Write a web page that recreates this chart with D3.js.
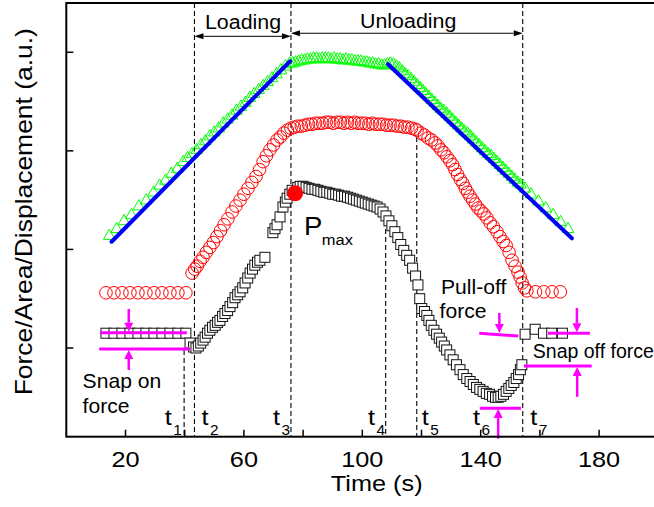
<!DOCTYPE html>
<html><head><meta charset="utf-8">
<script src="https://cdn.jsdelivr.net/npm/d3@7"></script>
<style>
body{margin:0;background:#fff}
svg{display:block}
text{font-family:"Liberation Sans",Arial,Helvetica,sans-serif;fill:#000}
</style>
</head><body>
<svg id="chart" width="654" height="507"></svg>
<script>
// ---------------- data (time in s, signal in a.u.) ----------------
const xTickValues = [20, 40, 60, 80, 100, 120, 140, 160, 180];
const xTickLabels = [20, 60, 100, 140, 180];
const yTickValues = [100, 200, 300, 400];

// Displacement (green triangles)
const triTime = [14.5,17.0,19.5,22.0,24.5,27.0,29.5,31.5,33.5,35.5,37.5,39.5,41.0,42.5,44.0,45.5,47.0,48.5,50.0,51.5,53.0,54.5,56.0,57.5,59.0,60.5,62.0,63.5,65.0,66.5,68.0,69.5,71.0,72.5,74.0,75.5,
  76.5,77.5,78.5,79.5,80.5,81.5,82.5,83.5,84.5,85.5,86.5,87.5,88.5,89.5,90.5,91.5,92.5,93.5,94.5,95.5,96.5,97.5,98.5,99.5,100.5,101.5,102.5,103.5,104.5,105.5,106.5,107.5,
  108.5,109.5,110.5,111.5,112.5,113.5,114.5,115.5,116.5,117.5,118.5,119.5,120.5,121.5,122.5,123.5,124.5,125.5,126.5,127.5,128.5,129.5,130.5,131.5,132.5,133.5,134.5,135.5,136.5,137.5,138.5,139.5,140.5,141.5,142.5,143.5,144.5,145.5,146.5,147.5,148.5,149.5,150.5,151.5,152.5,153.5,155.0,157.0,159.5,162.0,164.5,167.0,169.5];
const triValue = [214,221,229,235,244,250,258,265,270,277,282,289,293,297,301,306,310,315,319,323,328,332,336,341,345,349,354,358,362,366,370,374,378,382,386,389,
  389,390,391,392,392,393,393,394,394,393,394,394,394,393,394,393,393,392,393,392,392,391,391,391,390,390,389,389,388,388,387,387,
  388,389,388,386,384,381,378,376,373,370,367,364,361,358,355,352,349,346,343,341,338,335,332,329,326,323,320,318,315,312,309,306,303,300,297,295,292,289,286,283,280,277,274,271,268,266,262,256,249,242,235,228,221];

// Area (red circles)
const cirTime = [13.4,16.1,18.8,21.5,24.2,26.9,29.6,32.3,35.0,37.7,40.4,
  42.5,43.4,44.2,45.2,46.2,47.3,48.5,49.7,50.9,52.1,53.3,54.6,56.0,57.3,58.7,60.0,61.4,62.7,64.1,65.3,66.5,67.6,68.8,70.0,71.2,72.3,73.5,74.7,75.9,
  77.0,78.2,79.4,80.6,81.8,83.0,84.2,85.4,86.6,87.8,89.0,90.2,91.4,92.6,93.8,95.0,96.2,97.4,98.6,99.8,101.0,102.2,103.4,104.6,105.8,107.0,108.2,109.4,110.6,111.8,113.0,114.2,115.4,116.6,117.8,
  118.5,119.8,121.0,122.2,123.4,124.6,125.6,126.6,127.6,128.6,129.6,130.5,131.3,132.2,133.1,134.0,134.8,135.6,136.4,137.3,138.2,139.1,140.1,141.1,142.1,143.2,144.3,145.5,146.5,147.6,148.6,149.6,150.6,151.6,152.6,153.3,154.0,154.8,155.6,
  158.5,161.3,164.1,166.9];
const cirValue = [156,156,156,156,156,156,156,156,156,156,156,
  176,180,183,188,192,197,202,207,213,219,225,231,238,244,250,256,262,268,274,281,289,295,301,306,311,314,318,321,323,
  324,325,325,326,327,327,328,328,328,329,329,328,329,329,328,329,328,329,328,328,328,327,328,327,327,327,326,326,326,325,325,324,324,323,322,
  321,318,316,313,311,308,305,301,298,294,290,286,281,276,271,267,262,258,254,250,246,242,239,236,232,227,223,218,213,208,204,197,189,183,177,172,166,161,158,
  157,157,157,157];

// Force (black squares)
const sqTime = [13.4,16.1,18.8,21.5,24.2,26.9,29.6,32.3,35.0,37.7,40.4,
  41.8,43.0,43.8,44.6,45.4,46.2,46.9,47.7,48.5,49.4,50.3,51.1,51.9,52.8,53.6,54.5,55.3,56.2,57.0,57.9,58.7,59.6,60.4,61.3,62.1,62.9,63.7,64.6,65.4,67.1,
  69.8,70.5,71.2,72.2,73.2,74.0,74.6,75.5,76.3,
  78.2,79.0,80.0,81.0,82.0,83.0,84.0,85.0,86.0,87.0,88.0,89.0,90.0,91.0,92.0,93.0,94.0,95.0,96.0,97.0,98.0,99.0,100.0,101.0,102.0,103.0,104.0,105.0,106.0,107.0,108.0,109.0,110.0,111.0,112.0,113.0,114.0,115.0,116.0,117.0,118.0,118.8,119.4,
  120.1,121.0,121.8,122.5,123.3,124.2,125.1,126.0,126.8,127.7,128.5,129.6,130.7,131.8,133.0,134.1,135.3,136.4,137.5,138.6,139.7,140.8,141.9,143.0,144.0,145.0,145.9,146.8,147.7,148.6,149.5,150.3,151.2,152.0,152.8,153.4,153.9,
  155.0,158.4,161.2,164.0,167.6];
const sqValue = [115,115,115,115,115,115,115,115,115,115,115,
  105,101,100,102,105,108,111,115,118,121,123,126,128,132,135,138,142,146,151,154,157,161,166,171,176,180,184,187,189,192,
  217,221,225,233,243,248,252,256,260,
  263,264,264,263,262,261,261,260,259,258,258,257,256,256,255,254,254,253,252,251,250,249,248,247,246,245,244,243,241,238,234,229,224,218,212,205,199,194,189,181,173,164,150,
  140,137,133,128,123,118,114,110,106,102,98,93,88,83,78,73,69,66,63,60,58,56,54,53,51,50,50,51,53,56,59,62,65,69,73,78,83,
  114,119,115,115,115];

// Maximum force point
const pmaxTime = [77.3];
const pmaxValue = [257];

// Linear fits (blue)
const fitLoadTime = [15.3, 75.6];
const fitLoadValue = [207.8, 390.9];
const fitUnloadTime = [108.7, 170.8];
const fitUnloadValue = [387.9, 211.3];

// Event markers t1..t7 (null = no dashed line)
const markerLabels = ["1","2","3","4","5","6","7"];
const markerTime = [39.8, 43.3, 75.9, 107.9, 118.4, null, 154.2];
const markerTop = [98, 450, 450, 237, 314, null, 450];
const markerLabelTime = [33.3, 45.7, 69.8, 101.9, 120.1, 137.4, 156.7];

// ---------------- drawing ----------------
const W = 654, H = 507;
const x = d3.scaleLinear().domain([0, 200]).range([66.3, 658.3]);
const y = d3.scaleLinear().domain([10, 450]).range([436.7, 3]);
const svg = d3.select("#chart");

function txt(g, px, py, s, size, sx, anchor) {
  return g.append("text")
    .attr("transform", `translate(${px},${py}) scale(${sx},1)`)
    .attr("font-size", size)
    .attr("text-anchor", anchor || "start")
    .text(s);
}

// dashed event lines
const gMark = svg.append("g");
markerTime.forEach((t, i) => {
  if (t === null) return;
  gMark.append("line")
    .attr("x1", x(t)).attr("x2", x(t))
    .attr("y1", y(markerTop[i])).attr("y2", y(10))
    .attr("stroke", "#000").attr("stroke-width", 1.1)
    .attr("stroke-dasharray", "5,3");
});

// triangles
const triPath = "M0,-6.5L5.8,3.8L-5.8,3.8Z";
svg.append("g").selectAll("path").data(d3.zip(triTime, triValue)).join("path")
  .attr("d", triPath)
  .attr("transform", d => `translate(${x(d[0])},${y(d[1])})`)
  .attr("fill", "none").attr("stroke", "#00ff00").attr("stroke-width", 1);

// fit lines
const line = d3.line().x(d => x(d[0])).y(d => y(d[1]));
[[fitLoadTime, fitLoadValue], [fitUnloadTime, fitUnloadValue]].forEach(([tt, vv]) => {
  svg.append("path").attr("d", line(d3.zip(tt, vv)))
    .attr("fill", "none").attr("stroke", "#0000ff").attr("stroke-width", 4).attr("stroke-linecap", "round");
});

// circles
svg.append("g").selectAll("circle").data(d3.zip(cirTime, cirValue)).join("circle")
  .attr("cx", d => x(d[0])).attr("cy", d => y(d[1])).attr("r", 6.3)
  .attr("fill", "none").attr("stroke", "#ff0000").attr("stroke-width", 1);

// squares
svg.append("g").selectAll("rect").data(d3.zip(sqTime, sqValue)).join("rect")
  .attr("x", d => x(d[0]) - 5).attr("y", d => y(d[1]) - 5)
  .attr("width", 10).attr("height", 10)
  .attr("fill", "#fff").attr("stroke", "#111").attr("stroke-width", 1);

// Pmax
svg.append("circle").attr("cx", x(pmaxTime[0])).attr("cy", y(pmaxValue[0])).attr("r", 8).attr("fill", "#ff0000");

// magenta annotations
const mag = "#ff00ff";
const gM = svg.append("g");
function hline(t1, v1, t2, v2) {
  gM.append("line").attr("x1", x(t1)).attr("y1", y(v1)).attr("x2", x(t2)).attr("y2", y(v2))
    .attr("stroke", mag).attr("stroke-width", 3);
}
function varrow(t, vFrom, vTo) {
  const px = x(t), y0 = y(vFrom), y1 = y(vTo);
  const dir = y1 > y0 ? 1 : -1;
  const hl = 9, hw = 4.5;
  gM.append("line").attr("x1", px).attr("x2", px).attr("y1", y0).attr("y2", y1 - dir * hl)
    .attr("stroke", mag).attr("stroke-width", 2.5);
  gM.append("path").attr("d", `M${px},${y1}L${px - hw},${y1 - dir * hl}L${px + hw},${y1 - dir * hl}Z`).attr("fill", mag);
}
// snap on
hline(11.4, 115.5, 40.7, 115.5);
hline(11.1, 99, 41.8, 99);
varrow(21.1, 139.6, 116.5);
varrow(21.1, 77.7, 98);
// pull-off
hline(139.5, 114.9, 152.7, 112.2);
varrow(146.3, 135.5, 115.2);
hline(162.7, 114.9, 176.9, 114.9);
varrow(172.5, 140.6, 116);
// snap off
hline(154.6, 81.8, 177.5, 81.8);
varrow(172.6, 50.4, 80.8);
// minimum
hline(139.7, 38.9, 153.6, 38.9);
varrow(145.9, 8, 38);

// loading / unloading arrows
function harrow(t1, t2, v) {
  const x1 = x(t1), x2 = x(t2), py = y(v), hl = 9, hw = 3;
  svg.append("line").attr("x1", x1 + hl).attr("x2", x2 - hl).attr("y1", py).attr("y2", py)
    .attr("stroke", "#000").attr("stroke-width", 1);
  svg.append("path").attr("d", `M${x1},${py}L${x1 + hl},${py - hw}L${x1 + hl},${py + hw}Z`).attr("fill", "#000");
  svg.append("path").attr("d", `M${x2},${py}L${x2 - hl},${py - hw}L${x2 - hl},${py + hw}Z`).attr("fill", "#000");
}
harrow(43.3, 75.9, 416.2);
harrow(75.9, 154.2, 419.3);

const gT = svg.append("g");
txt(gT, x(59.7), y(423.3), "Loading", 20, 1.07, "middle");
txt(gT, x(115.5), y(424.3), "Unloading", 20, 1.07, "middle");
txt(gT, x(80.3), y(214.6), "P", 25, 1.1);
txt(gT, x(86.3), y(204.4), "max", 15, 1.1);
txt(gT, x(126.6), y(154.5), "Pull-off", 20.5, 1.03);
txt(gT, x(126.1), y(130.4), "force", 20.5, 1.03);
txt(gT, x(157.6), y(89.6), "Snap off force", 19.5, 1.0);
txt(gT, x(5.5), y(59.2), "Snap on", 20.5, 1.03);
txt(gT, x(5.5), y(33.9), "force", 20.5, 1.03);

// t labels
markerLabels.forEach((s, i) => {
  const px = x(markerLabelTime[i]);
  txt(gT, px, y(22), "t", 22, 1.15);
  txt(gT, px + 8.5, y(12), s, 14, 1.1);
});

// axes frame
const gA = svg.append("g");
gA.append("rect").attr("x", x(0)).attr("y", y(450)).attr("width", x(200) - x(0)).attr("height", y(10) - y(450))
  .attr("fill", "none").attr("stroke", "#000").attr("stroke-width", 2);
xTickValues.forEach(v => {
  gA.append("line").attr("x1", x(v)).attr("x2", x(v)).attr("y1", y(10)).attr("y2", y(10) - 7)
    .attr("stroke", "#000").attr("stroke-width", 1.5);
});
yTickValues.forEach(v => {
  gA.append("line").attr("x1", x(0)).attr("x2", x(0) + 7).attr("y1", y(v)).attr("y2", y(v))
    .attr("stroke", "#000").attr("stroke-width", 1.5);
});
xTickLabels.forEach(v => {
  txt(gA, x(v), 467, String(v), 22, 1.15, "middle");
});
txt(gA, 376.7, 491, "Time (s)", 22, 1.15, "middle");
gA.append("text")
  .attr("transform", "translate(31.7,211.7) rotate(-90) scale(1.15,1)")
  .attr("font-size", 23).attr("text-anchor", "middle")
  .text("Force/Area/Displacement (a.u.)");
</script>
</body></html>
